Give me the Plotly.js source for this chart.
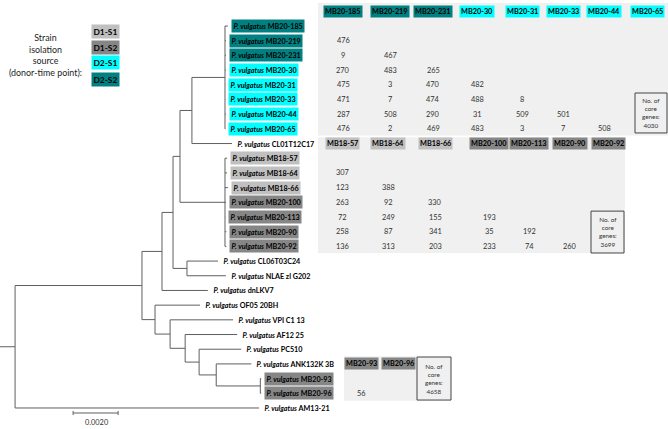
<!DOCTYPE html>
<html><head><meta charset="utf-8">
<script src="https://cdn.plot.ly/plotly-3.0.1.min.js"></script>
<style>html,body{margin:0;padding:0;background:#fff}</style>
</head><body><div id="chart" style="width:668px;height:429px"></div>
<script>
// ---------- DATA ----------
const leafNames = ["MB20-185","MB20-219","MB20-231","MB20-30","MB20-31","MB20-33","MB20-44","MB20-65",
  "CL01T12C17","MB18-57","MB18-64","MB18-66","MB20-100","MB20-113","MB20-90","MB20-92",
  "CL06T03C24","NLAE zl G202","dnLKV7","OF05 20BH","VPI C1 13","AF12 25","PC510","ANK132K 3B",
  "MB20-93","MB20-96","AM13-21"];
const leafSource = ["D2-S2","D2-S2","D2-S2","D2-S1","D2-S1","D2-S1","D2-S1","D2-S1",
  "","D1-S1","D1-S1","D1-S1","D1-S2","D1-S2","D1-S2","D1-S2",
  "","","","","","","","","D1-S2","D1-S2",""];
const internalNodes = ["R","A","B","C","D","E","F","G","T","M","H","I","J","K","L"];
const internalParents = [null,"R","A","A","B","D","D","E","G","E","C","H","I","J","K"];
const internalLengths = [0,0.00564,0.00089,0.00058,0.00049,0.00031,0.00062,0.00053,0.00147,0.00200,0.00067,0.00067,0.00062,0.00076,0.00196];
const leafParents = ["T","T","T","T","T","T","T","T","G","M","M","M","M","M","M","M",
  "F","F","B","C","H","I","J","K","L","L","R"];
const leafLengths = [0.00013,0.00004,0.00004,0.00004,0.00001,0.00001,0.00004,0.00002,
  0.00178,0.00009,0.00009,0.00013,0.00004,0.00001,0.00006,0.00006,
  0.00138,0.00173,0.00204,0.00200,0.00280,0.00231,0.00187,0.00156,0.00004,0.00004,0.01084];
const rootStub = 0.00067;
const scaleBarLength = 0.0020;
const scaleBarLabel = "0.0020";

const sourceNames = ["D1-S1","D1-S2","D2-S1","D2-S2"];
const sourceColors = ["#c0c0c0","#868686","#00ffff","#008080"];

const topLabels = ["MB20-185","MB20-219","MB20-231","MB20-30","MB20-31","MB20-33","MB20-44","MB20-65"];
const topValues = [[],[476],[9,467],[270,483,265],[475,3,470,482],[471,7,474,488,8],
  [287,508,290,31,509,501],[476,2,469,483,3,7,508]];
const midLabels = ["MB18-57","MB18-64","MB18-66","MB20-100","MB20-113","MB20-90","MB20-92"];
const midValues = [[],[307],[123,388],[263,92,330],[72,249,155,193],[258,87,341,35,192],
  [136,313,203,233,74,260]];
const botLabels = ["MB20-93","MB20-96"];
const botValues = [[],[56]];
const coreGenes = [4030, 3699, 4658];

// ---------- LAYOUT CONSTANTS (pixels) ----------
const W = 668, H = 429;
const FONT = "Lato, 'Open Sans', sans-serif";
const px = v => v / W;
const topCols = [343,390,433,477,522,563,604,647];
const midCols = [342,388,435,489,529,570,608];
const botCols = [361,398];

// ---------- TREE ----------
const nodeIds = internalNodes.concat(leafNames);
const nodeParents = internalParents.concat(leafParents);
const branchLengths = internalLengths.concat(leafLengths);
const idx = {}; nodeIds.forEach((n,i)=>idx[n]=i);
const children = nodeIds.map(()=>[]);
nodeParents.forEach((p,i)=>{ if(p) children[idx[p]].push(i); });
const X = [], Y = [];
function setX(i, base){ X[i] = base + branchLengths[i]; children[i].forEach(c=>setX(c, X[i])); }
setX(0, 0);
function setY(i){
  if(!children[i].length){ Y[i] = leafNames.indexOf(nodeIds[i]); return Y[i]; }
  const ys = children[i].map(setY);
  Y[i] = (Math.min(...ys)+Math.max(...ys))/2; return Y[i];
}
setY(0);
const tx=[], ty=[];
nodeIds.forEach((nm,i)=>{
  const p = nodeParents[i];
  if(p){ tx.push(X[idx[p]], X[i], null); ty.push(Y[i], Y[i], null); }
  if(children[i].length){
    const ys = children[i].map(c=>Y[c]);
    tx.push(X[i], X[i], null); ty.push(Math.min(...ys), Math.max(...ys), null);
  }
});
tx.push(-rootStub, 0, null); ty.push(Y[0], Y[0], null);

const traces = [{
  type:"scatter", mode:"lines", x:tx, y:ty, hoverinfo:"skip",
  line:{color:"#5f5f5f", width:1}, showlegend:false
}];

// scale bar
const sbx0 = 0.00258, sby = 26.34, tick = 0.14;
traces.push({
  type:"scatter", mode:"lines", hoverinfo:"skip", showlegend:false,
  line:{color:"#5f5f5f", width:1},
  x:[sbx0, sbx0+scaleBarLength, null, sbx0, sbx0, null, sbx0+scaleBarLength, sbx0+scaleBarLength],
  y:[sby, sby, null, sby-tick, sby+tick, null, sby-tick, sby+tick]
});

const ann = [];
const shapes = [];
const colorOf = s => { const j = sourceNames.indexOf(s); return j<0 ? "rgba(0,0,0,0)" : sourceColors[j]; };

// leaf labels
leafNames.forEach((nm,li)=>{
  const i = idx[nm];
  ann.push({x:X[i], y:Y[i], xref:"x", yref:"y", xanchor:"left", yanchor:"middle", xshift:3,
    showarrow:false, text:"<b><i>P. vulgatus</i> "+nm+"</b>",
    font:{family:FONT, size:7.2, color:"#000"}, bgcolor:colorOf(leafSource[li]), borderpad:1.5});
});

ann.push({x:px(97), y:27.0, xref:"paper", yref:"y", xanchor:"center", yanchor:"middle", showarrow:false, text:scaleBarLabel,
  font:{family:FONT, size:7.4, color:"#333"}});

// matrices
function matrix(labels, values, cols, bg, box, boxVal){
  const r0 = leafNames.indexOf(labels[0]);
  shapes.push({type:"rect", xref:"paper", yref:"y", x0:px(bg[0]), x1:px(bg[1]), y0:bg[2], y1:bg[3],
    fillcolor:"#f0f0f0", line:{width:0}, layer:"below"});
  labels.forEach((lb,c)=>{
    ann.push({x:px(cols[c]), y:r0-1, xref:"paper", yref:"y", xanchor:"center", yanchor:"middle", showarrow:false,
      text:"<b>"+lb+"</b>", font:{family:FONT, size:7.3, color:"#000"},
      bgcolor:colorOf(leafSource[leafNames.indexOf(lb)]), borderpad:1});
  });
  values.forEach((row,r)=>{
    const yy = leafNames.indexOf(labels[r]);
    row.forEach((v,c)=>{
      ann.push({x:px(cols[c]), y:yy, xref:"paper", yref:"y", xanchor:"center", yanchor:"middle", showarrow:false, text:String(v),
        font:{family:FONT, size:7.4, color:"#333"}});
    });
  });
  shapes.push({type:"rect", xref:"paper", yref:"y", x0:px(box[0]), x1:px(box[1]), y0:box[2], y1:box[3],
    fillcolor:"#f0f0f0", line:{width:1, color:"#444"}});
  ann.push({x:px((box[0]+box[1])/2), y:(box[2]+box[3])/2, xref:"paper", yref:"y", xanchor:"center", yanchor:"middle", showarrow:false,
    text:"No. of<br>core<br>genes:<br>"+boxVal, font:{family:FONT, size:6.3, color:"#333"}});
}
matrix(topLabels, topValues, topCols, [318,668,-1.57,7.45], [635,667,4.56,7.28], coreGenes[0]);
matrix(midLabels, midValues, midCols, [318,625,7.57,15.45], [591,624,12.6,15.45], coreGenes[1]);
matrix(botLabels, botValues, botCols, [344,417,22.47,25.5], [417,451,22.53,25.46], coreGenes[2]);

// source legend
ann.push({x:px(45), y:1.94, xref:"paper", yref:"y", xanchor:"center", yanchor:"middle", showarrow:false,
  text:"Strain<br>isolation<br>source<br>(donor-time point):",
  font:{family:FONT, size:8.9, color:"#222"}});
const legY = [0.34, 1.43, 2.50, 3.67];
sourceNames.forEach((s,j)=>{
  ann.push({x:px(105), y:legY[j], xref:"paper", yref:"y", xanchor:"center", yanchor:"middle", showarrow:false,
    text:"<b>"+s+"</b>", font:{family:FONT, size:8.4, color:"#000"}, bgcolor:sourceColors[j], borderpad:1.5});
});

const layout = {
  width:W, height:H, margin:{l:0,r:0,t:0,b:0,pad:0},
  paper_bgcolor:"#fff", plot_bgcolor:"#fff", showlegend:false,
  xaxis:{range:[-0.00067, 0.02902], visible:false, fixedrange:true},
  yaxis:{range:[27.43, -1.77], visible:false, fixedrange:true},
  annotations:ann, shapes:shapes
};
Plotly.newPlot("chart", traces, layout, {displayModeBar:false, staticPlot:true});
</script></body></html>
